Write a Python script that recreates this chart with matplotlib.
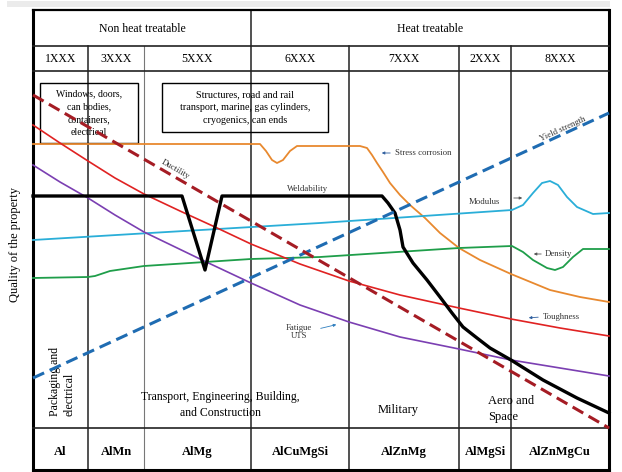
import matplotlib.pyplot as plt
from matplotlib.patches import Rectangle

# schematic drawn in picture coordinates (x right, y down)
col_edges = [33, 88, 144, 251, 349, 459, 511, 609]
series = ['1XXX', '3XXX', '5XXX', '6XXX', '7XXX', '2XXX', '8XXX']
alloys = ['Al', 'AlMn', 'AlMg', 'AlCuMgSi', 'AlZnMg', 'AlMgSi', 'AlZnMgCu']
groups = ['Non heat treatable', 'Heat treatable']

yield_x = [33, 609]
yield_y = [378, 113]

ductility_x = [33, 609]
ductility_y = [95, 428]

toughness_x = [33, 60, 88, 115, 144, 180, 215, 251, 300, 349, 400, 459, 511, 560, 609]
toughness_y = [125, 143, 161, 178, 194, 211, 227, 244, 264, 281, 295, 308, 319, 328, 336]

fatigue_x = [33, 60, 88, 115, 144, 200, 251, 300, 349, 400, 459, 511, 560, 609]
fatigue_y = [165, 182, 198, 215, 232, 259, 283, 305, 322, 337, 349, 360, 368, 376]

weld_x = [33, 182, 205, 222, 382, 388, 395, 400, 403, 413, 427, 440, 452, 463, 477, 490,
          511, 543, 577, 609]
weld_y = [196, 196, 270, 196, 196, 203, 213, 230, 247, 263, 280, 297, 313, 327, 338, 348,
          360, 380, 398, 413]

stress_x = [33, 260, 266, 272, 277, 283, 290, 297, 360, 367, 372, 377, 383, 390, 400, 410,
            425, 440, 459, 480, 511, 550, 580, 609]
stress_y = [144, 144, 151, 160, 163, 160, 151, 146, 146, 148, 155, 163, 172, 183, 195, 205,
            218, 233, 248, 260, 274, 290, 297, 302]

modulus_x = [33, 150, 320, 512, 523, 533, 542, 550, 558, 567, 577, 593, 609]
modulus_y = [240, 233, 223, 210, 205, 193, 183, 181, 185, 197, 207, 214, 213]

density_x = [33, 88, 95, 110, 144, 251, 320, 459, 512, 523, 533, 547, 555, 563, 573, 583, 609]
density_y = [278, 277, 276, 271, 266, 259, 257, 248, 246, 252, 260, 268, 270, 267, 257, 249, 249]

SERIF = ['Liberation Serif', 'DejaVu Serif']

fig = plt.figure(figsize=(6.22, 4.72), dpi=100)
ax = fig.add_axes([0, 0, 1, 1])
ax.set_xlim(0, 622)
ax.set_ylim(472, 0)
ax.axis('off')

ax.add_patch(Rectangle((7, 1), 603, 6, color='#ebebeb', lw=0, zorder=0))

# table frame
top, row1, row2, row3, bottom = 10, 46, 71, 428, 470
left, right = col_edges[0], col_edges[-1]
ax.plot([left, left], [top, bottom], color='black', lw=2.2, zorder=3)
ax.plot([right, right], [top, bottom], color='black', lw=2.2, zorder=3)
ax.plot([left, right], [top, top], color='black', lw=1.6, zorder=3)
ax.plot([left, right], [bottom, bottom], color='black', lw=2.2, zorder=3)
for yy in [row1, row2, row3]:
    ax.plot([left, right], [yy, yy], color='#222222', lw=1.2, zorder=3)
for xx in col_edges[1:-1]:
    y0 = top if xx == 251 else row1
    if xx == 144:
        ax.plot([xx, xx], [y0, bottom], color='#777777', lw=0.8, zorder=1)
    else:
        ax.plot([xx, xx], [y0, bottom], color='#222222', lw=1.1, zorder=1)

ax.text((left + 251) / 2, 29, groups[0], ha='center', va='center', fontsize=8.5, family=SERIF)
ax.text((251 + right) / 2, 29, groups[1], ha='center', va='center', fontsize=8.5, family=SERIF)
for i, s in enumerate(series):
    xc = (col_edges[i] + col_edges[i + 1]) / 2
    ax.text(xc, 59, s, ha='center', va='center', fontsize=8.5, family=SERIF)
    ax.text(xc, 452, alloys[i], ha='center', va='center', fontsize=9, family=SERIF,
            fontweight='bold')

# application boxes
ax.add_patch(Rectangle((40, 83), 98, 60, fill=False, ec='black', lw=1.0, zorder=2))
ax.add_patch(Rectangle((162, 83), 166, 49, fill=False, ec='black', lw=1.0, zorder=2))
ax.text(89, 113, 'Windows, doors,\ncan bodies,\ncontainers,\nelectrical', ha='center',
        va='center', fontsize=7, family=SERIF, linespacing=1.55)
ax.text(245, 108, 'Structures, road and rail\ntransport, marine, gas cylinders,\ncryogenics, can ends',
        ha='center', va='center', fontsize=7.3, family=SERIF, linespacing=1.55)

# property curves
ax.plot(stress_x, stress_y, color='#e8892f', lw=1.3, zorder=4)
ax.plot(modulus_x, modulus_y, color='#2aaed8', lw=1.3, zorder=4)
ax.plot(density_x, density_y, color='#1f9e4a', lw=1.3, zorder=4)
ax.plot(fatigue_x, fatigue_y, color='#7b3fb2', lw=1.2, zorder=4)
ax.plot(toughness_x, toughness_y, color='#e02222', lw=1.2, zorder=4)
ax.plot(weld_x, weld_y, color='black', lw=2.4, zorder=5)
ax.plot(yield_x, yield_y, color='#1f6cb2', lw=2.2, ls=(0, (4, 2)), zorder=5)
ax.plot(ductility_x, ductility_y, color='#a51c24', lw=2.2, ls=(0, (4, 2)), zorder=5)

small = dict(fontsize=6.3, family=SERIF, color='#333333', zorder=6)
ax.text(563, 129, 'Yield strength', ha='center', va='center', rotation=24.6, **small)
ax.text(175, 169, 'Ductility', ha='center', va='center', rotation=-30, **small)
ax.text(287, 189, 'Weldability', ha='left', va='center', **small)
ax.text(395, 153, 'Stress corrosion', ha='left', va='center', **small)
ax.text(469, 202, 'Modulus', ha='left', va='center', **small)
ax.text(545, 254, 'Density', ha='left', va='center', **small)
ax.text(543, 317, 'Toughness', ha='left', va='center', **small)
ax.text(299, 332, 'Fatigue\nUTS', ha='center', va='center', linespacing=1.15, **small)

arrow = dict(arrowstyle='-|>', lw=0.6, mutation_scale=4)
ax.annotate('', xy=(379, 153), xytext=(393, 153), arrowprops=dict(color='#2f5f9f', **arrow))
ax.annotate('', xy=(525, 198), xytext=(511, 198), arrowprops=dict(color='#555555', **arrow))
ax.annotate('', xy=(531, 254), xytext=(544, 254), arrowprops=dict(color='#555555', **arrow))
ax.annotate('', xy=(526, 318), xytext=(541, 317), arrowprops=dict(color='#2f5f9f', **arrow))
ax.annotate('', xy=(339, 324), xytext=(318, 329), arrowprops=dict(color='#2f7fbf', **arrow))

# axis label and application areas
ax.text(15, 244, 'Quality of the property', rotation=90, ha='center', va='center',
        fontsize=9, family=SERIF)
ax.text(62, 416, 'Packaging and\nelectrical', rotation=90, ha='center', va='bottom',
        multialignment='left', fontsize=8.5, family=SERIF, linespacing=1.3)
ax.text(220, 405, 'Transport, Engineering, Building,\nand Construction', ha='center',
        va='center', fontsize=8.5, family=SERIF, linespacing=1.4)
ax.text(398, 410, 'Military', ha='center', va='center', fontsize=9, family=SERIF)
ax.text(488, 409, 'Aero and\nSpace', ha='left', va='center', fontsize=9, family=SERIF,
        linespacing=1.35)

fig.savefig('out.png', dpi=100)
